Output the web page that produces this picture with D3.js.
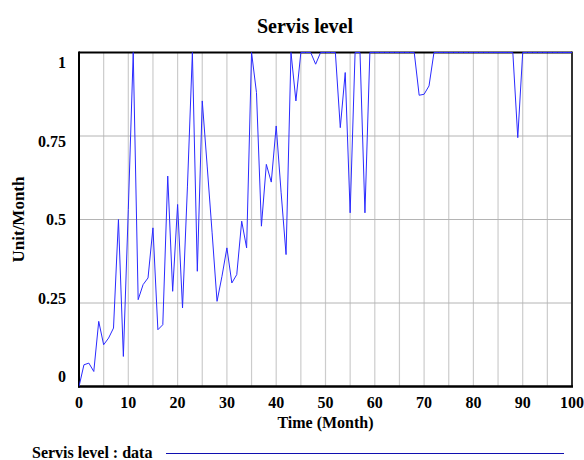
<!DOCTYPE html>
<html><head><meta charset="utf-8">
<script src="https://cdn.jsdelivr.net/npm/d3@7/dist/d3.min.js"></script>
<style>body{margin:0;background:#fff} text{font-family:"Liberation Serif","Times New Roman",serif;}</style>
</head><body><svg id="c" width="584" height="460"></svg>
<script>
const months = d3.range(0, 101);
const servisLevel = [
  0, 0.065, 0.07, 0.045, 0.195, 0.125, 0.145, 0.175, 0.5, 0.09,
  0.53, 1, 0.26, 0.305, 0.325, 0.475, 0.17, 0.185, 0.63, 0.285,
  0.545, 0.235, 0.6, 1, 0.345, 0.855, 0.66, 0.46, 0.255, 0.33,
  0.415, 0.31, 0.335, 0.495, 0.415, 1, 0.88, 0.48, 0.665, 0.612,
  0.78, 0.58, 0.395, 1, 0.855, 1, 1, 1, 0.965, 1,
  1, 1, 1, 0.775, 0.94, 0.52, 1, 1, 0.52, 1,
  1, 1, 1, 1, 1, 1, 1, 1, 1, 0.872,
  0.875, 0.9, 1, 1, 1, 1, 1, 1, 1, 1,
  1, 1, 1, 1, 1, 1, 1, 1, 1, 0.745,
  1, 1, 1, 1, 1, 1, 1, 1, 1, 1,
  1
];
const xTickValues = [0, 10, 20, 30, 40, 50, 60, 70, 80, 90, 100];
const xGridValues = [5, 10, 15, 20, 25, 30, 35, 40, 45, 50, 55, 60, 65, 70, 75, 80, 85, 90, 95];
const yTickValues = [0, 0.25, 0.5, 0.75, 1];
const yTickLabels = ["0", "0.25", "0.5", "0.75", "1"];
const yGridValues = [0.25, 0.5, 0.75];

const L = 79, R = 572, T = 52.5, B = 386.5;
const svg = d3.select("#c");
const x = d3.scaleLinear().domain([0, 100]).range([L, R]);
const y = d3.scaleLinear().domain([0, 1]).range([B, T]);
const yLab = d3.scaleLinear().domain([0, 1]).range([B - 10, T + 10]);

// grid
svg.append("g").selectAll("line").data(xGridValues).join("line")
  .attr("x1", d => x(d)).attr("x2", d => x(d)).attr("y1", T).attr("y2", B)
  .attr("stroke", "#cccccc").attr("stroke-width", 1.2);
svg.append("g").selectAll("line").data(yGridValues).join("line")
  .attr("x1", L).attr("x2", R).attr("y1", d => y(d)).attr("y2", d => y(d))
  .attr("stroke", "#b4b4b4").attr("stroke-width", 1);

// frame
svg.append("line").attr("x1", L).attr("x2", R).attr("y1", T).attr("y2", T).attr("stroke", "#000").attr("stroke-width", 2);
svg.append("line").attr("x1", R).attr("x2", R).attr("y1", T - 1).attr("y2", B).attr("stroke", "#333").attr("stroke-width", 2);
svg.append("line").attr("x1", L).attr("x2", L).attr("y1", T - 1).attr("y2", B + 1).attr("stroke", "#000").attr("stroke-width", 2);
svg.append("line").attr("x1", L - 1).attr("x2", R + 1).attr("y1", B).attr("y2", B).attr("stroke", "#000").attr("stroke-width", 2.5);

// series
svg.append("clipPath").attr("id", "clip").append("rect")
  .attr("x", L).attr("y", T - 1).attr("width", R - L).attr("height", B - T + 1);
const line = d3.line().x((d, i) => x(months[i])).y(d => y(d));
svg.append("path").datum(servisLevel).attr("d", line)
  .attr("fill", "none").attr("stroke", "#2a2aff").attr("stroke-width", 1)
  .attr("clip-path", "url(#clip)");

// tick labels
svg.append("g").selectAll("text").data(xTickValues).join("text")
  .attr("x", d => x(d)).attr("y", 408).attr("text-anchor", "middle")
  .attr("font-size", 16).attr("font-weight", "bold").text(d => d);
svg.append("g").selectAll("text").data(yTickValues).join("text")
  .attr("x", 66).attr("y", d => yLab(d)).attr("dy", "0.35em").attr("text-anchor", "end")
  .attr("font-size", 16).attr("font-weight", "bold").text((d, i) => yTickLabels[i]);

// titles
svg.append("text").attr("x", 305).attr("y", 33).attr("text-anchor", "middle")
  .attr("font-size", 20).attr("font-weight", "bold").text("Servis level");
svg.append("text").attr("x", (L + R) / 2).attr("y", 428).attr("text-anchor", "middle")
  .attr("font-size", 16).attr("font-weight", "bold").text("Time (Month)");
svg.append("text").attr("transform", `translate(24,${(T + B) / 2}) rotate(-90)`)
  .attr("text-anchor", "middle").attr("font-size", 17).attr("font-weight", "bold").text("Unit/Month");

// legend
svg.append("text").attr("x", 32).attr("y", 458).attr("font-size", 16).attr("font-weight", "bold").text("Servis level : data");
svg.append("line").attr("x1", 166).attr("x2", 564).attr("y1", 453.5).attr("y2", 453.5)
  .attr("stroke", "#1010b0").attr("stroke-width", 1);
</script></body></html>
